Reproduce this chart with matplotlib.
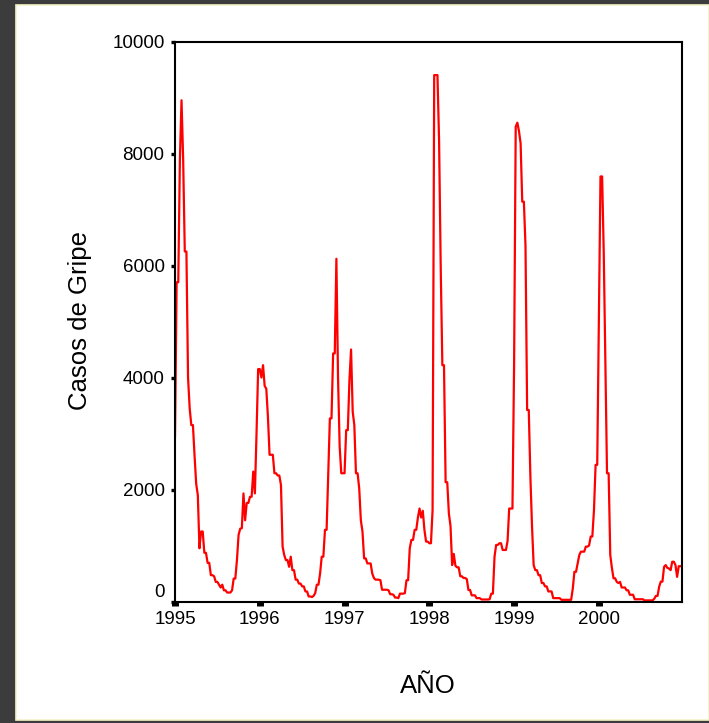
import numpy as np
import matplotlib
matplotlib.use('Agg')
import matplotlib.pyplot as plt
from matplotlib.patches import Rectangle

# weekly flu cases, one list per year (52 weeks each)
years = [1995, 1996, 1997, 1998, 1999, 2000]

cases_1995 = [2950, 5700, 5700, 7900, 8950, 7900, 6250, 6250, 4000, 3450,
              3150, 3150, 2600, 2100, 1900, 950, 1250, 1250, 870, 870,
              690, 690, 470, 470, 450, 350, 350, 300, 250, 300,
              200, 200, 160, 160, 160, 200, 410, 410, 740, 1190,
              1300, 1310, 1930, 1450, 1760, 1760, 1870, 1870, 2320, 1930,
              2990, 4150]
cases_1996 = [4150, 4000, 4220, 3850, 3800, 3300, 2620, 2620, 2620, 2290,
              2290, 2250, 2250, 2080, 980, 830, 740, 740, 620, 800,
              560, 560, 390, 390, 320, 320, 270, 270, 180, 180,
              90, 90, 80, 100, 150, 300, 300, 500, 800, 800,
              1280, 1280, 2260, 3270, 3270, 4430, 4430, 6120, 4000, 2770,
              2290, 2290]
cases_1997 = [2290, 3060, 3060, 3950, 4500, 3390, 3150, 2290, 2290, 2020,
              1450, 1250, 770, 770, 680, 680, 680, 500, 420, 390,
              390, 390, 380, 210, 210, 210, 210, 200, 130, 130,
              120, 70, 70, 60, 140, 140, 140, 150, 380, 380,
              950, 1100, 1100, 1280, 1280, 1500, 1660, 1500, 1620, 1280,
              1070, 1070]
cases_1998 = [1040, 1040, 1630, 9400, 9400, 9400, 8210, 5950, 4220, 4220,
              2130, 2130, 1570, 1350, 650, 850, 640, 610, 610, 450,
              450, 420, 420, 400, 205, 205, 110, 110, 110, 60,
              60, 60, 36, 36, 36, 36, 36, 40, 140, 140,
              800, 1010, 1010, 1040, 1040, 920, 920, 920, 1080, 1660,
              1660, 1660]
cases_1999 = [4220, 8480, 8550, 8400, 8180, 7140, 7140, 6350, 3420, 3420,
              2230, 1340, 650, 560, 560, 470, 470, 330, 330, 270,
              270, 180, 180, 180, 60, 60, 60, 60, 60, 30,
              30, 30, 30, 30, 30, 30, 230, 530, 530, 680,
              830, 890, 890, 890, 980, 980, 1000, 1160, 1160, 1630,
              2440, 2440]
cases_2000 = [5050, 7590, 7590, 6230, 4300, 2290, 2290, 830, 600, 414,
              414, 350, 330, 350, 250, 250, 250, 200, 200, 120,
              120, 120, 40, 40, 40, 40, 40, 40, 20, 20,
              20, 20, 20, 20, 50, 100, 100, 265, 355, 355,
              620, 650, 600, 590, 560, 710, 710, 650, 440, 630,
              630, 630]

y_ticks = [0, 2000, 4000, 6000, 8000, 10000]

W, H = 709, 723


def plot_flu(cases, years):
    fig = plt.figure(figsize=(W / 100, H / 100), dpi=100)
    fig.patch.set_facecolor('#3c3c3c')
    # white page with a thin pale yellow border
    fig.add_artist(Rectangle((16 / W, 3 / H), 1 - 16 / W, 1 - 8 / H, transform=fig.transFigure,
                             facecolor='white', edgecolor='#f4f4c8', linewidth=1.2, zorder=0))

    ax = fig.add_axes([175 / W, 1 - 601.5 / H, 507 / W, 560 / H])
    t = years[0] + np.arange(len(cases)) / 52.0
    ax.plot(t, cases, color='#ff0000', linewidth=1.6)

    ax.set_xlim(years[0], t[-1])
    ax.set_ylim(0, 10000)
    ax.set_xticks(years)
    ax.set_xticklabels([str(y) for y in years])
    ax.set_yticks(y_ticks)
    ax.set_yticklabels([''] + [str(v) for v in y_ticks[1:]])
    # SPSS puts the zero label a bit above the corner
    ax.annotate('0', xy=(0, 0), xycoords='axes fraction', xytext=(-10, 9),
                textcoords='offset pixels', ha='right', va='center', fontsize=13.5)

    for s in ax.spines.values():
        s.set_linewidth(1.5)
        s.set_color('black')
    ax.tick_params(axis='y', direction='out', length=3, width=2.4, pad=4.5, labelsize=13.5)
    ax.tick_params(axis='x', direction='out', length=2.6, width=5, pad=4.5, labelsize=13.5)

    fig.text(80 / W, 1 - 321 / H, 'Casos de Gripe', rotation=90, ha='center', va='center', fontsize=18.5)
    fig.text(428 / W, 1 - 686 / H, 'AÑO', ha='center', va='center', fontsize=18.5)
    return fig


def main():
    plt.rcParams['font.family'] = ['Liberation Sans', 'DejaVu Sans']
    cases = np.array(cases_1995 + cases_1996 + cases_1997 + cases_1998 + cases_1999 + cases_2000, dtype=float)
    fig = plot_flu(cases, years)
    fig.savefig('out.png', dpi=100, facecolor=fig.get_facecolor())


if __name__ == "__main__":
    main()
